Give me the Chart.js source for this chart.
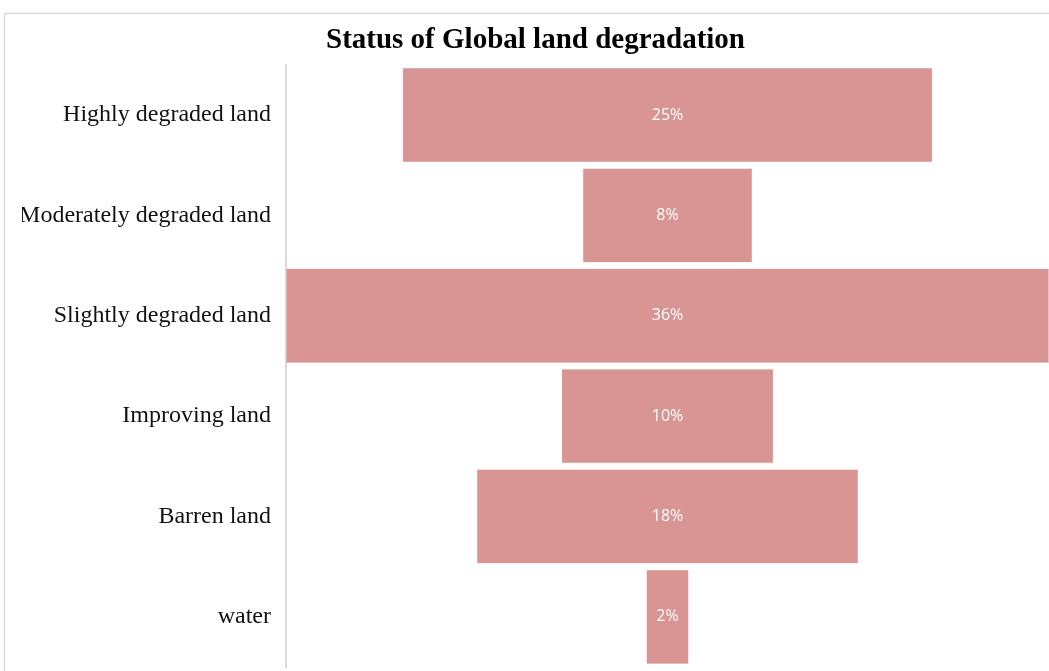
<!DOCTYPE html>
<html>
<head>
<meta charset="utf-8">
<script src="https://cdn.jsdelivr.net/npm/chart.js@4/dist/chart.umd.min.js"></script>
<style>
  html, body { margin: 0; padding: 0; background: #fff; overflow: hidden; }
  canvas { display: block; }
</style>
</head>
<body>
<canvas id="funnel" width="1049" height="671"></canvas>
<script>
const CATEGORIES = [
  'Highly degraded land',
  'Moderately degraded land',
  'Slightly degraded land',
  'Improving land',
  'Barren land',
  'water'
];
const SHARES = [25, 8, 36, 10, 18, 2];
const HALF_MAX = 18;

// funnel: each bar floats around zero
const spans = SHARES.map(v => [-v / 2, v / 2]);

const frame = {
  id: 'frame',
  beforeDraw(chart) {
    const { ctx, width, height } = chart;
    ctx.save();
    ctx.fillStyle = '#fff';
    ctx.fillRect(0, 0, width, height);
    ctx.strokeStyle = '#d9d9d9';
    ctx.lineWidth = 1.5;
    ctx.beginPath();
    ctx.moveTo(4.5, height);
    ctx.lineTo(4.5, 13.5);
    ctx.lineTo(width, 13.5);
    ctx.stroke();
    ctx.restore();
  }
};

const barLabels = {
  id: 'barLabels',
  afterDatasetsDraw(chart) {
    const { ctx } = chart;
    const meta = chart.getDatasetMeta(0);
    ctx.save();
    ctx.fillStyle = '#fff';
    ctx.font = '16px "Open Sans", "Noto Sans", sans-serif';
    ctx.textAlign = 'center';
    ctx.textBaseline = 'middle';
    meta.data.forEach((bar, i) => {
      const cx = (bar.x + bar.base) / 2;
      ctx.fillText(SHARES[i] + '%', cx, bar.y);
    });
    ctx.restore();
  }
};

new Chart(document.getElementById('funnel'), {
  type: 'bar',
  data: {
    labels: CATEGORIES,
    datasets: [{
      data: spans,
      backgroundColor: '#d99594',
      borderColor: '#f2d4d3',
      borderWidth: 0.5,
      borderSkipped: false,
      barPercentage: 0.94,
      categoryPercentage: 1
    }]
  },
  options: {
    indexAxis: 'y',
    responsive: false,
    animation: false,
    layout: { padding: { left: 22, right: 0, top: 0, bottom: 4 } },
    plugins: {
      legend: { display: false },
      tooltip: { enabled: false },
      title: {
        display: true,
        text: 'Status of Global land degradation',
        color: '#000',
        font: { family: '"Liberation Serif", "Times New Roman", serif', size: 29, weight: 'bold' },
        padding: { top: 23, bottom: 7 }
      }
    },
    scales: {
      x: {
        display: false,
        min: -HALF_MAX,
        max: HALF_MAX
      },
      y: {
        afterFit(scale) {
          scale.width = 264;
          scale.paddingTop = 0;
          scale.paddingBottom = 0;
        },
        grid: { display: false, drawTicks: false },
        border: { display: true, color: '#d9d9d9', width: 2 },
        ticks: {
          color: '#111',
          padding: 15,
          font: { family: '"Liberation Serif", "Times New Roman", serif', size: 24 }
        }
      }
    }
  },
  plugins: [frame, barLabels]
});
</script>
</body>
</html>
